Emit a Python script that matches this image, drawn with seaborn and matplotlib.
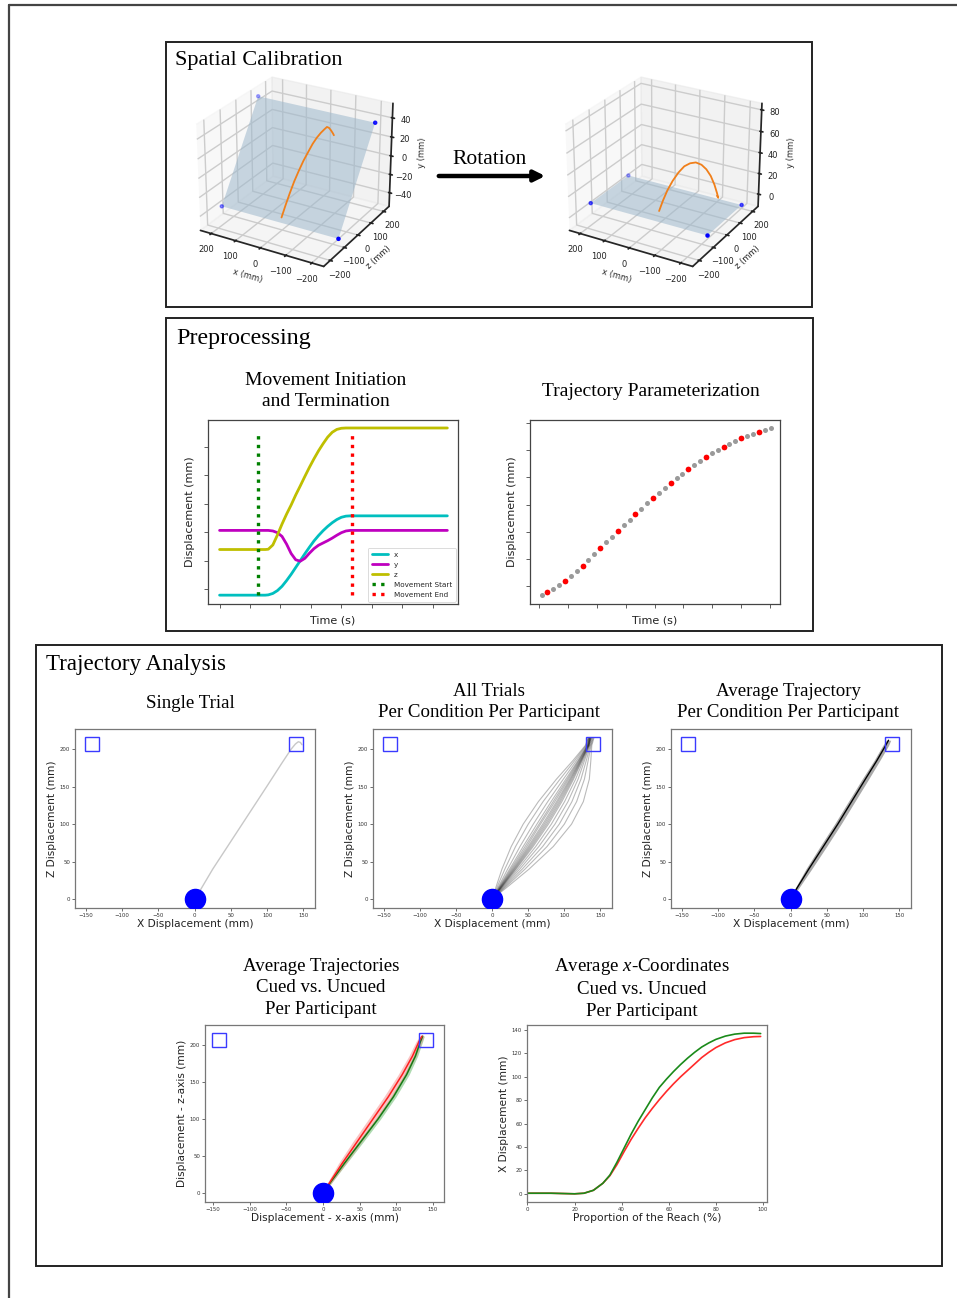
import numpy as np
import pandas as pd
import matplotlib
matplotlib.use("Agg")
import matplotlib.pyplot as plt
import seaborn as sns
from matplotlib.patches import Rectangle, FancyArrowPatch
from matplotlib.lines import Line2D
from mpl_toolkits.mplot3d.art3d import Poly3DCollection

# ======================= DATA =======================
# --- Spatial calibration (mm): calibration corner points and one reach (x, z, y)
calib_x = [240, -230, -230, 240]
calib_z = [-115, -115, 140, 140]
calib_y_before = [-45, -45, 45, 45]
calib_y_after = [0, 0, 0, 0]

reach_before_x = [0, -2, -5, -9, -14, -19, -25, -32, -39, -47, -55, -61, -67, -72, -76, -77]
reach_before_z = [-104, -80, -56, -32, -8, 15, 37, 57, 74, 88, 99, 106, 110, 116, 124, 128]
reach_before_y = [-41, -31, -21, -11, -2, 6, 13, 20, 25, 29, 32, 34, 33, 30, 26, 24]

reach_after_x = [0, -8, -18, -30, -44, -58, -72, -86, -100, -112, -123, -132, -138, -140, -137]
reach_after_z = [-45, -32, -18, -2, 14, 30, 46, 62, 78, 92, 105, 117, 127, 133, 130]
reach_after_y = [0, 9, 18, 26, 33, 38, 40, 40, 37, 32, 25, 16, 7, 2, 4]

# --- Preprocessing: movement initiation / termination (arbitrary units)
pre_time = [0, 0.5, 1.0, 1.5, 1.6, 1.75, 1.9, 2.05, 2.2, 2.35, 2.5, 2.65, 2.8, 2.95,
            3.1, 3.25, 3.4, 3.55, 3.7, 3.85, 4.0, 4.15, 4.3, 4.5, 5.0, 6.0, 7.0, 7.48]
pre_x = [-0.21, -0.21, -0.21, -0.21, -0.20, -0.15, -0.05, 0.10, 0.30, 0.52, 0.76, 1.00, 1.24, 1.47,
         1.69, 1.88, 2.05, 2.20, 2.33, 2.44, 2.52, 2.56, 2.57, 2.57, 2.57, 2.57, 2.57, 2.57]
pre_y = [2.06, 2.06, 2.06, 2.06, 2.06, 2.04, 1.98, 1.85, 1.58, 1.25, 1.03, 0.98, 1.08, 1.26,
         1.42, 1.54, 1.62, 1.70, 1.79, 1.89, 1.98, 2.04, 2.06, 2.06, 2.06, 2.06, 2.06, 2.06]
pre_z = [1.39, 1.39, 1.39, 1.39, 1.40, 1.55, 1.90, 2.28, 2.63, 2.95, 3.30, 3.62, 3.95, 4.27,
         4.57, 4.85, 5.10, 5.33, 5.50, 5.60, 5.64, 5.65, 5.65, 5.65, 5.65, 5.65, 5.65, 5.65]
move_start = 1.27
move_end = 4.36
marker_span = [-0.21, 5.52]

# --- Preprocessing: trajectory parameterization (samples and resampled points)
param_y = [-0.34, -0.21, -0.10, 0.03, 0.18, 0.35, 0.54, 0.74, 0.95, 1.17,
           1.38, 1.60, 1.81, 2.02, 2.23, 2.44, 2.64, 2.84, 3.04, 3.24,
           3.43, 3.62, 3.80, 3.97, 4.14, 4.30, 4.46, 4.61, 4.76, 4.90,
           5.02, 5.14, 5.25, 5.35, 5.45, 5.53, 5.61, 5.68, 5.76, 5.83]
param_time = np.linspace(0.07, 8.03, len(param_y))
param_red_idx = list(range(1, len(param_y), 3))

# --- Targets / start (mm)
target_x = [-142, 140]
target_z = [207, 207]
start_x = [0]
start_z = [0]

# --- Single trial (mm)
single_x = [3, 25, 50, 75, 100, 120, 133, 139, 143, 146, 148]
single_z = [4, 40, 77, 114, 151, 181, 200, 207, 210, 209, 206]

# --- All trials: x displacement at common z levels (mm)
trial_z = [0, 15, 40, 70, 100, 130, 160, 185, 205, 215]
trial_x = [
    [0, 5.0, 13.6, 26.4, 43, 64.0, 89.0, 112.0, 129.0, 133],
    [0, 6.5, 17.6, 32.4, 50, 70.5, 94.0, 114.5, 130.0, 133],
    [0, 8.0, 21.5, 38.5, 57, 77.0, 98.6, 117.0, 131.0, 134],
    [0, 9.0, 24.3, 42.9, 62, 81.7, 102.0, 119.0, 132.0, 135],
    [0, 9.8, 26.0, 45.5, 65, 84.5, 104.0, 120.0, 132.0, 134],
    [0, 10.4, 27.5, 47.8, 67, 86.8, 105.7, 121.0, 132.5, 135],
    [0, 10.9, 28.8, 49.9, 70, 89.2, 107.4, 121.9, 133.0, 136],
    [0, 11.4, 30.0, 51.6, 72, 91.0, 108.7, 122.6, 133.2, 136],
    [0, 11.8, 31.0, 53.3, 74, 92.9, 110.0, 123.3, 133.5, 135],
    [0, 12.3, 32.2, 55.0, 76, 94.7, 111.4, 124.0, 133.8, 137],
    [0, 12.7, 33.3, 56.8, 78, 96.6, 112.8, 124.8, 134.0, 137],
    [0, 13.5, 35.5, 60.3, 82, 100.3, 115.6, 126.3, 134.5, 136],
    [0, 14.6, 38.3, 64.6, 87, 105.0, 119.0, 128.0, 135.0, 138],
    [0, 16.0, 41.7, 69.9, 93, 110.5, 123.0, 130.4, 136.0, 139],
    [0, 17.5, 45.6, 76.0, 100, 117.0, 127.8, 133.0, 137.0, 140],
    [0, 19.7, 51.2, 84.6, 110, 126.3, 134.6, 136.7, 138.0, 141],
]

# --- Average trajectory (mm)
avg_z = [0, 15, 40, 70, 100, 130, 160, 185, 205, 212]
avg_x = [0, 9, 25, 45, 65, 84, 103, 119, 131, 135]
avg_sd = [1, 2.5, 4, 4.5, 4.5, 4.5, 4.5, 4, 4, 3]

# --- Cued vs. uncued average trajectories (mm)
cue_z = [0, 15, 40, 70, 100, 130, 160, 185, 205, 212]
uncued_x = [0, 9.5, 26, 47, 68, 89, 108, 122, 131, 135]
uncued_sd = [1, 3, 5, 6, 6, 6, 5.5, 5, 4, 3]
cued_x = [0, 10.5, 29, 52, 75, 96, 114, 126, 133, 136]
cued_sd = [1, 2, 3, 3.5, 3.5, 3.5, 3.5, 3, 3, 2]

# --- Average x-coordinates vs. proportion of reach
reach_pct = [0, 10, 20, 24, 28, 32, 35, 38, 41, 44, 47, 50, 53, 56, 59, 62, 65, 68, 71, 74, 77, 80, 84, 88, 92, 96, 99]
xcoord_uncued = [0.5, 0.5, 0.0, 0.5, 3, 9, 15.5, 25, 36, 46.5, 56, 65, 73, 80.5, 87.5, 94, 100, 105.5,
                 111, 116.5, 121, 125, 129, 131.8, 133.5, 134.3, 134.5]
xcoord_cued = [0.5, 0.5, 0.0, 0.5, 3, 9, 16, 27, 39, 51, 62, 72, 82, 91, 98, 104.5, 110.5, 116,
               121, 125.5, 129, 132, 134.8, 136.5, 137.3, 137.3, 137]

# ======================= STYLE =======================
sns.set_theme(style="white", color_codes=False)
plt.rcParams["font.family"] = ["DejaVu Sans"]
plt.rcParams["mathtext.fontset"] = "custom"
plt.rcParams["mathtext.it"] = "Liberation Serif:italic"
plt.rcParams["mathtext.rm"] = "Liberation Serif"
SERIF = ["Liberation Serif", "DejaVu Serif"]

C_CYAN = (0.0, 0.75, 0.75)
C_MAG = (0.75, 0.0, 0.75)
C_YEL = (0.75, 0.75, 0.0)
C_GRN = (0.0, 0.5, 0.0)
C_RED = (1.0, 0.0, 0.0)

W, H = 957, 1298
fig = plt.figure(figsize=(W / 100, H / 100), dpi=100)
fig.patch.set_facecolor("white")


def rect_px(x0, y0, x1, y1):
    return [x0 / W, 1 - y1 / H, (x1 - x0) / W, (y1 - y0) / H]


def add_box(x0, y0, x1, y1, lw=1.4):
    fig.add_artist(Rectangle((x0 / W, 1 - y1 / H), (x1 - x0) / W, (y1 - y0) / H,
                             transform=fig.transFigure, fill=False,
                             edgecolor="#222222", linewidth=lw))


def ftext(x, y, s, size, ha="left", va="center", ls=1.25, **kw):
    fig.text(x / W, 1 - y / H, s, fontsize=size, ha=ha, va=va, family=SERIF,
             color="black", linespacing=ls, multialignment="center", **kw)


# page border lines
fig.add_artist(Line2D([9 / W, 9 / W], [0, 1 - 5 / H], transform=fig.transFigure, color="#444444", lw=1.6))
fig.add_artist(Line2D([9 / W, 1], [1 - 5 / H, 1 - 5 / H], transform=fig.transFigure, color="#444444", lw=1.6))

# section boxes
add_box(166, 42, 812, 307)
add_box(166, 318, 813, 631)
add_box(36, 645, 942, 1266)

# ======================= SPATIAL CALIBRATION =======================
ftext(175, 61, "Spatial Calibration", 16)
ftext(490, 159, "Rotation", 15.5, ha="center")
fig.add_artist(FancyArrowPatch((436 / W, 1 - 176 / H), (548 / W, 1 - 176 / H),
                               transform=fig.transFigure, arrowstyle="-|>",
                               mutation_scale=16, lw=3.2, color="black"))


def draw3d(rect, ys, rx, rz, ry, zlim, zticks):
    ax = fig.add_axes(rect, projection="3d")
    ax.patch.set_alpha(0)
    ax.view_init(elev=26, azim=-60)
    ax.set_box_aspect((4, 4, 3.3))
    verts = [list(zip(calib_x, calib_z, ys))]
    ax.add_collection3d(Poly3DCollection(verts, facecolor=(0.62, 0.72, 0.80, 0.55), edgecolor="none"))
    ax.scatter(calib_x, calib_z, ys, color="blue", s=5, depthshade=True)
    ax.plot(rx, rz, ry, color="#f07f1a", lw=1.3)
    ax.set_xlim(-245, 245)
    ax.invert_xaxis()
    ax.set_ylim(-245, 245)
    ax.set_zlim(*zlim)
    ax.set_xticks([-200, -100, 0, 100, 200])
    ax.set_yticks([-200, -100, 0, 100, 200])
    ax.set_zticks(zticks)
    ax.tick_params(axis="both", labelsize=6, pad=-2, colors="#222222")
    ax.set_xlabel("x (mm)", fontsize=6, labelpad=-7)
    ax.set_ylabel("z (mm)", fontsize=6, labelpad=-7)
    ax.set_zlabel("y (mm)", fontsize=6, labelpad=-7)
    try:
        ax.zaxis.set_ticks_position("upper")
        ax.zaxis.set_label_position("upper")
    except Exception:
        pass
    return ax


draw3d(rect_px(166, 58, 421, 282), calib_y_before, reach_before_x, reach_before_z, reach_before_y,
       (-55, 55), [-40, -20, 0, 20, 40])
draw3d(rect_px(535, 58, 790, 282), calib_y_after, reach_after_x, reach_after_z, reach_after_y,
       (-12, 86), [0, 20, 40, 60, 80])

# ======================= PREPROCESSING =======================
ftext(176, 339, "Preprocessing", 17.3)
ftext(326, 391, "Movement Initiation\nand Termination", 14, ha="center", ls=1.35)
ftext(651, 391, "Trajectory Parameterization", 14, ha="center")


def style_pre(ax):
    for s in ax.spines.values():
        s.set_color("#444444")
        s.set_linewidth(0.9)
    ax.tick_params(axis="both", bottom=True, left=True, length=3, width=0.6,
                   colors="#444444", direction="out")
    ax.set_xticklabels([])
    ax.set_yticklabels([])
    ax.set_xlabel("Time (s)", fontsize=8, labelpad=2, color="#222222")
    ax.set_ylabel("Displacement (mm)", fontsize=8, labelpad=3, color="#222222")


axA = fig.add_axes(rect_px(208, 420, 458, 604))
sns.lineplot(x=pre_time, y=pre_x, color=C_CYAN, lw=2, label="x", ax=axA, sort=False, estimator=None)
sns.lineplot(x=pre_time, y=pre_y, color=C_MAG, lw=2, label="y", ax=axA, sort=False, estimator=None)
sns.lineplot(x=pre_time, y=pre_z, color=C_YEL, lw=2, label="z", ax=axA, sort=False, estimator=None)
axA.plot([move_start, move_start], marker_span, linestyle=(0, (1, 1.6)), color=C_GRN, lw=2.4, label="Movement Start")
axA.plot([move_end, move_end], marker_span, linestyle=(0, (1, 1.6)), color=C_RED, lw=2.4, label="Movement End")
axA.set_xlim(-0.38, 7.83)
axA.set_ylim(-0.52, 5.93)
axA.set_xticks(range(0, 8))
axA.set_yticks(range(0, 6))
style_pre(axA)
leg = axA.legend(loc="lower right", fontsize=5.2, handlelength=2.2, labelspacing=0.55,
                 borderpad=0.55, borderaxespad=0.3, frameon=True)
leg.get_frame().set_edgecolor("#cccccc")
leg.get_frame().set_linewidth(0.6)

axB = fig.add_axes(rect_px(530, 420, 780, 604))
sns.scatterplot(x=param_time, y=param_y, color="#9a9a9a", s=13, linewidth=0, ax=axB)
sns.scatterplot(x=param_time[param_red_idx], y=np.array(param_y)[param_red_idx],
                color=C_RED, s=17, linewidth=0, ax=axB)
axB.set_xlim(-0.33, 8.36)
axB.set_ylim(-0.67, 6.12)
axB.set_xticks(range(0, 9))
axB.set_yticks(range(0, 7))
style_pre(axB)

# ======================= TRAJECTORY ANALYSIS =======================
ftext(46, 664, "Trajectory Analysis", 16.6)
ftext(190, 704, "Single Trial", 13.6, ha="center")
ftext(489, 702, "All Trials\nPer Condition Per Participant", 13.6, ha="center", ls=1.37)
ftext(788, 702, "Average Trajectory\nPer Condition Per Participant", 13.6, ha="center", ls=1.37)
ftext(321, 988, "Average Trajectories\nCued vs. Uncued\nPer Participant", 13.6, ha="center", ls=1.37)
ftext(642, 988, "Average $x$-Coordinates\nCued vs. Uncued\nPer Participant", 13.6, ha="center", ls=1.37)


def style2d(ax):
    for s in ax.spines.values():
        s.set_color("#777777")
        s.set_linewidth(0.9)
    ax.tick_params(axis="both", bottom=True, left=True, labelsize=3.9, length=2,
                   width=0.5, pad=1.5, colors="#333333", direction="out")


def finish_reach(ax, xlabel="X Displacement (mm)", ylabel="Z Displacement (mm)"):
    ax.plot(target_x, target_z, "s", mfc="none", mec="#3a3aff", ms=10.6, mew=1.0, zorder=4)
    ax.plot(start_x, start_z, "o", color="blue", ms=14.5, zorder=6)
    ax.set_xlim(-165, 166)
    ax.set_ylim(-12, 227)
    ax.set_xticks([-150, -100, -50, 0, 50, 100, 150])
    ax.set_yticks([0, 50, 100, 150, 200])
    style2d(ax)
    ax.set_xlabel(xlabel, fontsize=7.7, labelpad=1, color="#222222")
    ax.set_ylabel(ylabel, fontsize=7.7, labelpad=2, color="#222222")


# Single trial
ax1 = fig.add_axes(rect_px(75, 729, 315, 908))
sns.lineplot(x=single_x, y=single_z, color="#c8c8c8", lw=1.0, sort=False, estimator=None, ax=ax1)
finish_reach(ax1)

# All trials
ax2 = fig.add_axes(rect_px(373, 729, 612, 908))
df_trials = pd.DataFrame({
    "trial": np.repeat(np.arange(len(trial_x)), len(trial_z)),
    "x": np.concatenate(trial_x),
    "z": np.tile(trial_z, len(trial_x)),
})
sns.lineplot(data=df_trials, x="x", y="z", units="trial", estimator=None, sort=False,
             color="black", alpha=0.27, lw=0.8, ax=ax2)
finish_reach(ax2)

# Average trajectory
ax3 = fig.add_axes(rect_px(671, 729, 911, 908))
ax3.fill_betweenx(avg_z, np.array(avg_x) - np.array(avg_sd), np.array(avg_x) + np.array(avg_sd),
                  color="#8c8c8c", alpha=0.75, lw=0)
sns.lineplot(x=avg_x, y=avg_z, color="black", lw=1.0, sort=False, estimator=None, ax=ax3)
finish_reach(ax3)

# Cued vs uncued trajectories
ax4 = fig.add_axes(rect_px(205, 1025, 444, 1202))
ax4.fill_betweenx(cue_z, np.array(cued_x) - np.array(cued_sd), np.array(cued_x) + np.array(cued_sd),
                  color="#4caf50", alpha=0.45, lw=0)
sns.lineplot(x=cued_x, y=cue_z, color="#137a13", lw=1.1, sort=False, estimator=None, ax=ax4)
ax4.fill_betweenx(cue_z, np.array(uncued_x) - np.array(uncued_sd), np.array(uncued_x) + np.array(uncued_sd),
                  color="#f28080", alpha=0.45, lw=0)
sns.lineplot(x=uncued_x, y=cue_z, color="#ff1e1e", lw=1.1, sort=False, estimator=None, ax=ax4)
finish_reach(ax4, "Displacement - x-axis (mm)", "Displacement - z-axis (mm)")
ax4.set_xlim(-161, 165)

# Average x-coordinates
ax5 = fig.add_axes(rect_px(527, 1025, 767, 1202))
sns.lineplot(x=reach_pct, y=xcoord_uncued, color="#ff2a2a", lw=1.2, ax=ax5)
sns.lineplot(x=reach_pct, y=xcoord_cued, color="#1a8a1a", lw=1.2, ax=ax5)
ax5.set_xlim(-0.2, 101.7)
ax5.set_ylim(-7, 144.3)
ax5.set_xticks([0, 20, 40, 60, 80, 100])
ax5.set_yticks([0, 20, 40, 60, 80, 100, 120, 140])
style2d(ax5)
ax5.set_xlabel("Proportion of the Reach (%)", fontsize=7.7, labelpad=1, color="#222222")
ax5.set_ylabel("X Displacement (mm)", fontsize=7.7, labelpad=2, color="#222222")

fig.savefig("out.png", dpi=100, facecolor="white")
